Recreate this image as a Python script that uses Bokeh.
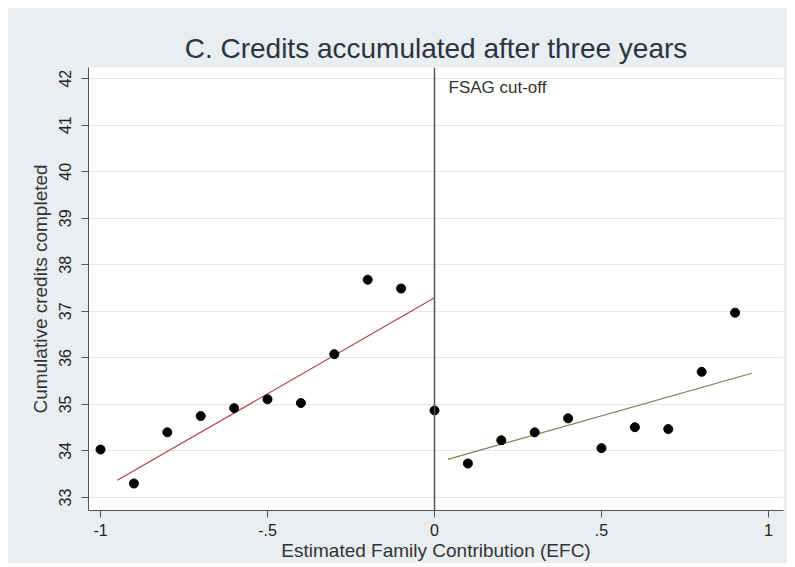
from bokeh.plotting import figure
from bokeh.models import FixedTicker, Span, Label, Range1d
from bokeh.embed import file_html
from bokeh.resources import INLINE

# Data
efc_left = [-1.0, -0.9, -0.8, -0.7, -0.6, -0.5, -0.4, -0.3, -0.2, -0.1]
credits_left = [34.03, 33.30, 34.40, 34.75, 34.92, 35.11, 35.03, 36.08, 37.68, 37.49]
efc_right = [0.0, 0.1, 0.2, 0.3, 0.4, 0.5, 0.6, 0.7, 0.8, 0.9]
credits_right = [34.87, 33.73, 34.23, 34.40, 34.70, 34.06, 34.51, 34.47, 35.70, 36.97]

fit_left_x = [-0.95, 0.0]
fit_left_y = [33.37, 37.29]
fit_right_x = [0.04, 0.95]
fit_right_y = [33.82, 35.67]

x_ticks = [-1, -0.5, 0, 0.5, 1]
x_tick_labels = ["-1", "-.5", "0", ".5", "1"]
y_ticks = [33, 34, 35, 36, 37, 38, 39, 40, 41, 42]

BG = "#E9EEF3"
FONT = "Liberation Sans"

p = figure(width=780, height=556, output_backend="svg", toolbar_location=None,
           x_range=Range1d(-1.036, 1.045), y_range=Range1d(32.72, 42.24),
           min_border_left=81, min_border_right=4, min_border_top=60, min_border_bottom=51,
           background_fill_color="white", border_fill_color=BG)
p.margin = (7, 8, 4, 7)
p.outline_line_color = None

p.title.text = "C. Credits accumulated after three years"
p.title.align = "center"
p.title.text_font = FONT
p.title.text_font_size = "28px"
p.title.text_font_style = "normal"
p.title.text_color = "#2B3440"
p.title.standoff = 7

p.xgrid.grid_line_color = None
p.ygrid.grid_line_color = "#E6E6E6"
p.ygrid.grid_line_width = 1

p.xaxis.ticker = FixedTicker(ticks=x_ticks)
p.xaxis.major_label_overrides = {t: l for t, l in zip(x_ticks, x_tick_labels)}
p.yaxis.ticker = FixedTicker(ticks=y_ticks)
p.yaxis.major_label_orientation = "vertical"

for ax in (p.xaxis[0], p.yaxis[0]):
    ax.axis_line_color = "#555555"
    ax.major_tick_line_color = "#555555"
    ax.minor_tick_line_color = None
    ax.major_tick_out = 7
    ax.major_tick_in = 0
    ax.major_label_text_font = FONT
    ax.major_label_text_font_size = "16px"
    ax.major_label_text_color = "#222222"
    ax.axis_label_text_font = FONT
    ax.axis_label_text_font_size = "19px"
    ax.axis_label_text_font_style = "normal"
    ax.axis_label_text_color = "#333333"

p.xaxis.major_label_standoff = 6
p.xaxis.axis_label_standoff = 1
p.yaxis.major_label_standoff = 10
p.yaxis.axis_label_standoff = 6

p.xaxis.axis_label = "Estimated Family Contribution (EFC)"
p.yaxis.axis_label = "Cumulative credits completed"

p.add_layout(Span(location=0, dimension="height", line_color="#555555", line_width=1.5))

p.line(fit_left_x, fit_left_y, line_color="#B0404E", line_width=1.2)
p.line(fit_right_x, fit_right_y, line_color="#7E7E4E", line_width=1.2)

p.scatter(efc_left, credits_left, size=9, color="black")
p.scatter(efc_right, credits_right, size=9, color="black")

p.add_layout(Label(x=0.042, y=41.81, text="FSAG cut-off", text_font=FONT,
                   text_font_size="17px", text_color="#333333", text_baseline="middle"))

open("out.html", "w").write(file_html(p, INLINE))
